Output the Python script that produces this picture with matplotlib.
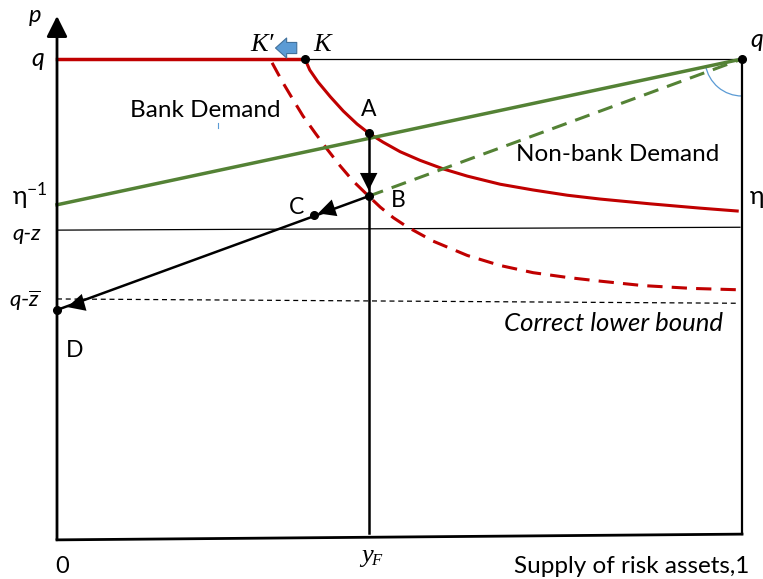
import matplotlib
matplotlib.use("Agg")
import matplotlib.pyplot as plt
from matplotlib.patches import Arc

plt.rcParams['mathtext.fontset'] = 'custom'
plt.rcParams['mathtext.it'] = 'Lato:italic'
plt.rcParams['mathtext.rm'] = 'Lato'
SANS = ['Lato', 'DejaVu Sans']
SERIF = ['Liberation Serif', 'DejaVu Serif']

RED = '#C00000'
GREEN = '#548235'
BLUE = '#5B9BD5'

# supply share x (0..1) and price p
bank_x = [0.362, 0.369, 0.381, 0.399, 0.418, 0.438, 0.455, 0.476, 0.501, 0.530,
          0.564, 0.599, 0.647, 0.695, 0.745, 0.793, 0.866, 0.939, 0.993]
bank_p = [1.000, 0.977, 0.952, 0.921, 0.891, 0.864, 0.845, 0.826, 0.806, 0.788,
          0.770, 0.755, 0.738, 0.726, 0.715, 0.707, 0.697, 0.688, 0.682]

bank_new_x = [0.314, 0.330, 0.345, 0.359, 0.377, 0.394, 0.413, 0.432, 0.455, 0.472,
              0.491, 0.511, 0.549, 0.599, 0.647, 0.695, 0.745, 0.788, 0.855, 0.928, 1.000]
bank_new_p = [0.992, 0.950, 0.914, 0.881, 0.845, 0.812, 0.777, 0.745, 0.713, 0.690,
              0.668, 0.649, 0.619, 0.589, 0.568, 0.553, 0.543, 0.536, 0.526, 0.520, 0.517]

q = 1.0
eta_inv = 0.695
y_F = 0.455
K = (0.362, 1.0)
A = (0.455, 0.845)
B = (0.455, 0.713)
C = (0.375, 0.674)
D = (0.0, 0.475)
qz_p = [0.642, 0.648]
qzbar_p = [0.498, 0.489]

fig = plt.figure(figsize=(7.63, 5.79), dpi=100)
ax = fig.add_axes([0, 0, 1, 1])
ax.set_xlim(-57 / 685, 706 / 685)
ax.set_ylim(-42 / 478, 537 / 478)
ax.axis('off')

# axes of the diagram
ax.plot([0, 1], [-0.006, 0.006], color='black', lw=2)
ax.plot([1, 1], [0.006, q], color='black', lw=1.6)
ax.annotate('', xy=(0, 1.09), xytext=(0, -0.006),
            arrowprops=dict(arrowstyle='-|>,head_length=0.9,head_width=0.45',
                            mutation_scale=14, color='black', lw=2,
                            shrinkA=0, shrinkB=0))

# thin reference lines
ax.plot([K[0], 1], [q, q], color='black', lw=0.9)
ax.plot([0, 0.997], qz_p, color='black', lw=0.9)
ax.plot([0, 0.994], qzbar_p, color='black', lw=0.9, ls=(0, (4, 3)))

# demand curves
ax.plot([0, K[0]], [q, q], color=RED, lw=2.5)
ax.plot(bank_x, bank_p, color=RED, lw=2.2)
ax.plot(bank_new_x, bank_new_p, color=RED, lw=2.2, dashes=(5, 3))
ax.plot([0, 1], [eta_inv, q], color=GREEN, lw=2.5)
ax.plot([B[0], 1], [B[1], q], color=GREEN, lw=2.2, dashes=(5, 3))

# path A -> B -> C -> D
ax.plot([y_F, y_F], [A[1], 0.008], color='black', lw=1.8)
ax.plot([B[0], D[0]], [B[1], D[1]], color='black', lw=1.8)
aprops = dict(arrowstyle='-|>,head_length=0.9,head_width=0.45', mutation_scale=14,
              color='black', lw=0, shrinkA=0, shrinkB=0)
ax.annotate('', xy=(y_F, 0.725), xytext=(y_F, 0.77), arrowprops=aprops)
ax.annotate('', xy=(C[0] + 0.006, C[1] + 0.003), xytext=(0.41, 0.691), arrowprops=aprops)
ax.annotate('', xy=(0.015, 0.481), xytext=(0.06, 0.499), arrowprops=aprops)

for pt in [K, A, B, C, D, (1, q)]:
    ax.plot(pt[0], pt[1], 'o', color='black', ms=5.5, zorder=5)

# blue shift arrow and angle arc
ax.annotate('', xy=(0.319, 1.023), xytext=(0.350, 1.023),
            arrowprops=dict(arrowstyle='simple,head_length=0.5,head_width=0.9,tail_width=0.5',
                            mutation_scale=16, fc=BLUE, ec='#41719C', lw=0.8,
                            shrinkA=0, shrinkB=0))
ax.add_patch(Arc((1, q), 2 * 37 / 685, 2 * 37 / 478, theta1=194, theta2=270,
                 color=BLUE, lw=0.9))
ax.plot([0.235, 0.235], [0.856, 0.866], color=BLUE, lw=0.8)

# labels
ax.text(-0.032, 1.092, 'p', fontsize=17, family=SANS, style='italic', ha='center', va='center')
ax.text(-0.028, 1.002, 'q', fontsize=18, family=SANS, style='italic', ha='center', va='center')
ax.text(1.022, 1.040, 'q', fontsize=18, family=SANS, style='italic', ha='center', va='center')
ax.text(0.299, 1.029, "K\u2032", fontsize=19, family=SERIF, style='italic', ha='center', va='center')
ax.text(0.387, 1.029, 'K', fontsize=19, family=SERIF, style='italic', ha='center', va='center')
ax.text(0.455, 0.895, 'A', fontsize=16.5, family=SANS, ha='center', va='center')
ax.text(0.498, 0.703, 'B', fontsize=16.5, family=SANS, ha='center', va='center')
ax.text(0.350, 0.690, 'C', fontsize=16.5, family=SANS, ha='center', va='center')
ax.text(0.026, 0.391, 'D', fontsize=16.5, family=SANS, ha='center', va='center')
ax.text(-0.039, 0.713, r'$\mathregular{\eta^{-1}}$', fontsize=18, family=SANS, ha='center', va='center')
ax.text(1.022, 0.713, '\u03b7', fontsize=18, family=SANS, ha='center', va='center')
ax.text(-0.044, 0.634, 'q-z', fontsize=16, family=SANS, style='italic', ha='center', va='center')
ax.text(-0.047, 0.494, r'$q$-$\overline{z}$', fontsize=16, family=SANS, ha='center', va='center')
ax.text(0.216, 0.893, 'Bank Demand', fontsize=17.5, family=SANS, ha='center', va='center')
ax.text(0.818, 0.801, 'Non-bank Demand', fontsize=17.5, family=SANS, ha='center', va='center')
ax.text(0.812, 0.446, 'Correct lower bound', fontsize=18.5, family=SANS, style='italic',
        ha='center', va='center')
ax.text(0.007, -0.061, '0', fontsize=17, family=SANS, ha='center', va='center')
ax.text(0.452, -0.040, 'y', fontsize=19, family=SERIF, style='italic', ha='center', va='center')
ax.text(0.466, -0.050, 'F', fontsize=12, family=SERIF, style='italic', ha='center', va='center')
ax.text(0.839, -0.061, 'Supply of risk assets,1', fontsize=17.5, family=SANS, ha='center', va='center')

fig.savefig('out.png', dpi=100)
